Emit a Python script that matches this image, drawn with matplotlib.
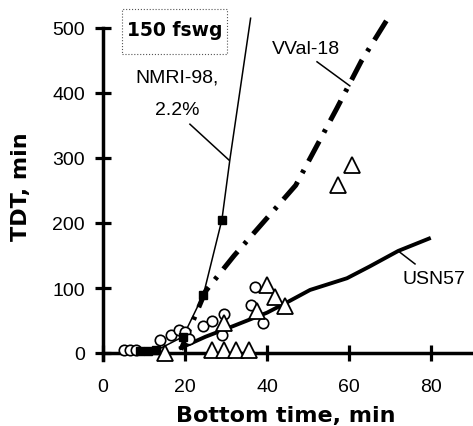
import matplotlib
matplotlib.use('Agg')
import matplotlib.pyplot as plt
from matplotlib.patches import Rectangle

# open circles
circ_x = [5, 6.5, 8, 14, 16.5, 18.5, 20, 21, 24.5, 26.5, 29, 29.5, 36, 37, 39]
circ_y = [5, 5, 5, 20, 28, 35, 33, 22, 41, 49, 28, 60, 74, 102, 46]

# open triangles
tri_x = [15, 26.5, 29.5, 32.5, 35.5, 29.5, 37.5, 40, 42, 44.5, 57.3, 60.7]
tri_y = [0, 4, 4, 4, 4, 46, 65, 105, 86, 72, 258, 289]

# NMRI-98 filled squares
sq_x = [9, 11, 13, 19.5, 24.5, 29]
sq_y = [3, 3, 4, 25, 90, 205]

# model curves
nmri_x = [9, 13, 19.5, 24.5, 29, 31, 36]
nmri_y = [3, 4, 25, 90, 205, 300, 515]
vval_x = [19, 20, 25, 32, 42, 47, 57, 63, 69.5]
vval_y = [5, 20, 95, 150, 222, 258, 376, 449, 515]
usn_x = [19, 25, 32, 40, 45.5, 50.5, 59.5, 65, 72, 79.5]
usn_y = [8, 25, 42, 62, 80, 97, 115, 133, 157, 176]

xticks = [0, 20, 40, 60, 80]
yticks = [0, 100, 200, 300, 400, 500]

plt.rcParams['font.family'] = ['Liberation Sans', 'DejaVu Sans']

fig = plt.figure(figsize=(4.73, 4.27), dpi=100)
ax = fig.add_axes([103/473, 1 - 360.5/427, 369/473, 331.5/427])

ax.plot(nmri_x, nmri_y, color='black', lw=1.1, clip_on=False, zorder=2)
ax.plot(vval_x, vval_y, color='black', lw=3.6, ls=(0, (4.5, 2, 0.7, 2)),
        clip_on=False, zorder=2)
ax.plot(usn_x, usn_y, color='black', lw=2.8, clip_on=False, zorder=2)

ax.plot(circ_x, circ_y, 'o', ms=7.5, mfc='white', mec='black', mew=1.2,
        ls='none', clip_on=False, zorder=3)
ax.plot(tri_x, tri_y, '^', ms=11, mfc='white', mec='black', mew=1.3,
        ls='none', clip_on=False, zorder=4)
ax.plot(sq_x, sq_y, 's', ms=6, color='black', ls='none', clip_on=False, zorder=5)

ax.set_xlim(0, 90)
ax.set_ylim(-10, 500)
ax.set_xticks(xticks)
ax.set_yticks(yticks)
ax.spines['top'].set_visible(False)
ax.spines['right'].set_visible(False)
ax.spines['bottom'].set_position(('data', 0))
for s in ['left', 'bottom']:
    ax.spines[s].set_linewidth(2.5)
ax.tick_params(direction='inout', length=11, width=2.3, labelsize=14)
ax.tick_params(axis='x', pad=12.5)
ax.tick_params(axis='y', pad=7.5)

# axis titles
fig.text(286/473, 1 - 416/427, 'Bottom time, min', ha='center', va='center',
         family='DejaVu Sans', fontweight='bold', fontsize=16)
fig.text(21/473, 1 - 187/427, 'TDT, min', ha='center', va='center',
         rotation=90, family='DejaVu Sans', fontweight='bold', fontsize=16)

# curve labels with leader lines
ax.text(18, 425, 'NMRI-98,', ha='center', va='center', fontsize=14)
ax.text(18, 375, '2.2%', ha='center', va='center', fontsize=14)
ax.plot([21.2, 30.7], [352, 297], color='black', lw=1.1)
ax.text(49.5, 468, 'VVal-18', ha='center', va='center', fontsize=14)
ax.plot([52.2, 60.2], [448, 411], color='black', lw=1.1)
ax.text(80.7, 115, 'USN57', ha='center', va='center', fontsize=14)
ax.plot([72.4, 76.1], [155, 137], color='black', lw=1.1)

# depth label in a dotted box
fig.add_artist(Rectangle((122/473, 1 - 55/427), 105/473, 45/427,
                         transform=fig.transFigure, fill=False,
                         ls=':', lw=0.8, edgecolor='#555555'))
fig.text(175/473, 1 - 31/427, '150 fswg', ha='center', va='center',
         family='DejaVu Sans', fontweight='bold', fontsize=13.5)

fig.savefig('out.png', dpi=100)
